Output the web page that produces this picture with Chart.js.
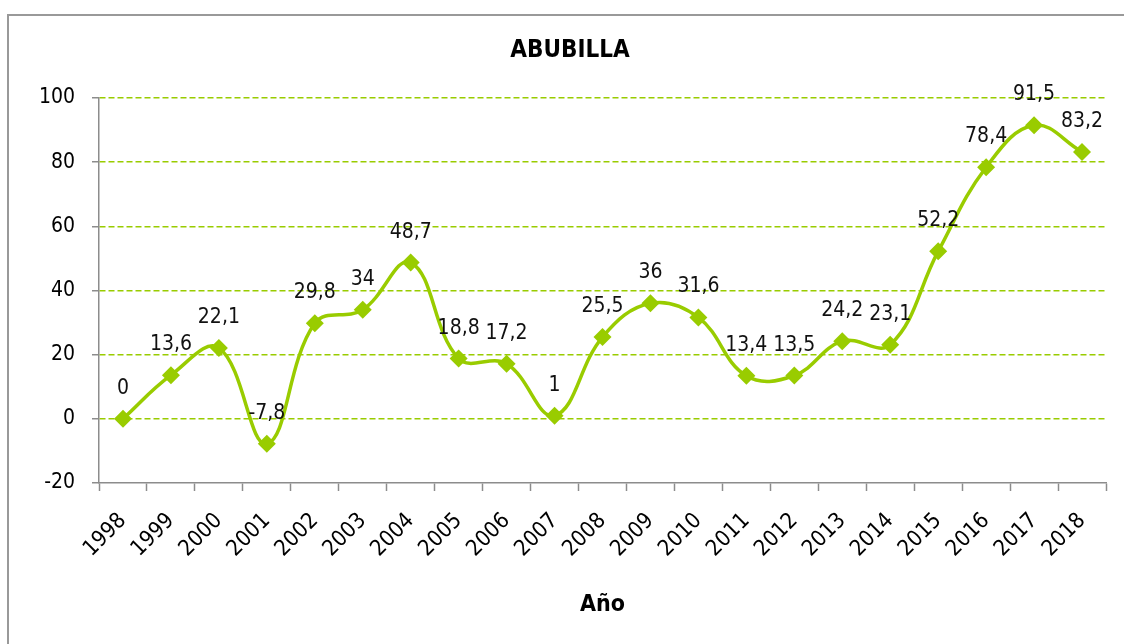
<!DOCTYPE html>
<html>
<head>
<meta charset="utf-8">
<script src="https://cdn.jsdelivr.net/npm/chart.js@4"></script>
<style>
html,body{margin:0;padding:0;background:#fff;}
#wrap{position:relative;width:1124px;height:644px;}
</style>
</head>
<body>
<div id="wrap"><canvas id="c" width="1124" height="644"></canvas></div>
<script>
const chartTitle = 'ABUBILLA';
const xTitle = 'Año';
const years = ['1998','1999','2000','2001','2002','2003','2004','2005','2006','2007','2008','2009','2010','2011','2012','2013','2014','2015','2016','2017','2018'];
const values = [0, 13.6, 22.1, -7.8, 29.8, 34, 48.7, 18.8, 17.2, 1, 25.5, 36, 31.6, 13.4, 13.5, 24.2, 23.1, 52.2, 78.4, 91.5, 83.2];
const yMin = -20, yMax = 100, yStep = 20;

const FONT = "'DejaVu Sans Condensed', 'DejaVu Sans', sans-serif";
const GREEN = '#99CC00';
const GRAY = '#8c8c8c';

const fmt = v => String(v).replace('.', ',');

const decor = {
  id: 'decor',
  beforeDraw(chart) {
    const ctx = chart.ctx;
    ctx.save();
    ctx.fillStyle = '#fff';
    ctx.fillRect(0, 0, chart.width, chart.height);
    ctx.strokeStyle = '#999';
    ctx.lineWidth = 2;
    ctx.beginPath();
    ctx.moveTo(8, chart.height + 5);
    ctx.lineTo(8, 15);
    ctx.lineTo(chart.width + 5, 15);
    ctx.stroke();
    ctx.restore();
  },
  afterDraw(chart) {
    const ctx = chart.ctx;
    const ca = chart.chartArea;
    ctx.save();
    ctx.fillStyle = '#000';
    ctx.textAlign = 'center';
    ctx.textBaseline = 'middle';
    ctx.font = 'bold 24px ' + FONT;
    ctx.fillText(chartTitle, 570, 51);
    ctx.font = 'bold 23px ' + FONT;
    ctx.fillText(xTitle, (ca.left + ca.right) / 2, 605);
    ctx.restore();
  },
  afterDatasetsDraw(chart) {
    const ctx = chart.ctx;
    const meta = chart.getDatasetMeta(0);
    ctx.save();
    ctx.fillStyle = '#111';
    ctx.textAlign = 'center';
    ctx.textBaseline = 'alphabetic';
    ctx.font = '21px ' + FONT;
    meta.data.forEach((pt, i) => {
      ctx.fillText(fmt(values[i]), pt.x, pt.y - 25);
    });
    ctx.restore();
  }
};

new Chart(document.getElementById('c'), {
  type: 'line',
  data: {
    labels: years,
    datasets: [{
      data: values,
      borderColor: GREEN,
      backgroundColor: GREEN,
      borderWidth: 3.5,
      tension: 0.4,
      pointStyle: 'rectRot',
      pointRadius: 9,
      pointBackgroundColor: GREEN,
      pointBorderWidth: 0,
      clip: false
    }]
  },
  options: {
    responsive: false,
    animation: false,
    devicePixelRatio: 1,
    layout: { padding: { left: 10, top: 98, right: 18, bottom: 0 } },
    plugins: { legend: { display: false }, title: { display: false }, tooltip: { enabled: false } },
    scales: {
      x: {
        type: 'category',
        offset: true,
        afterFit(s) { s.height = 161; },
        grid: {
          display: true, drawOnChartArea: false, drawTicks: true, offset: true,
          tickLength: 8, tickColor: GRAY, tickWidth: 1.5
        },
        border: { display: true, color: GRAY, width: 1.5 },
        ticks: {
          color: '#000', font: { family: FONT, size: 22 },
          maxRotation: 45, minRotation: 45, autoSkip: false, padding: 17
        }
      },
      y: {
        min: yMin, max: yMax,
        afterFit(s) { s.width = 89; },
        grid: {
          color: ctx => (ctx.tick && ctx.tick.value === yMin) ? 'rgba(0,0,0,0)' : GREEN,
          lineWidth: 1.5,
          drawTicks: true, tickLength: 7, tickColor: GRAY, tickWidth: 1.5, tickBorderDash: []
        },
        border: { display: true, color: GRAY, width: 1.5, dash: [6, 3] },
        ticks: {
          stepSize: yStep, color: '#000', font: { family: FONT, size: 21 }, padding: 17,
          callback: v => fmt(v)
        }
      }
    }
  },
  plugins: [decor]
});
</script>
</body>
</html>
